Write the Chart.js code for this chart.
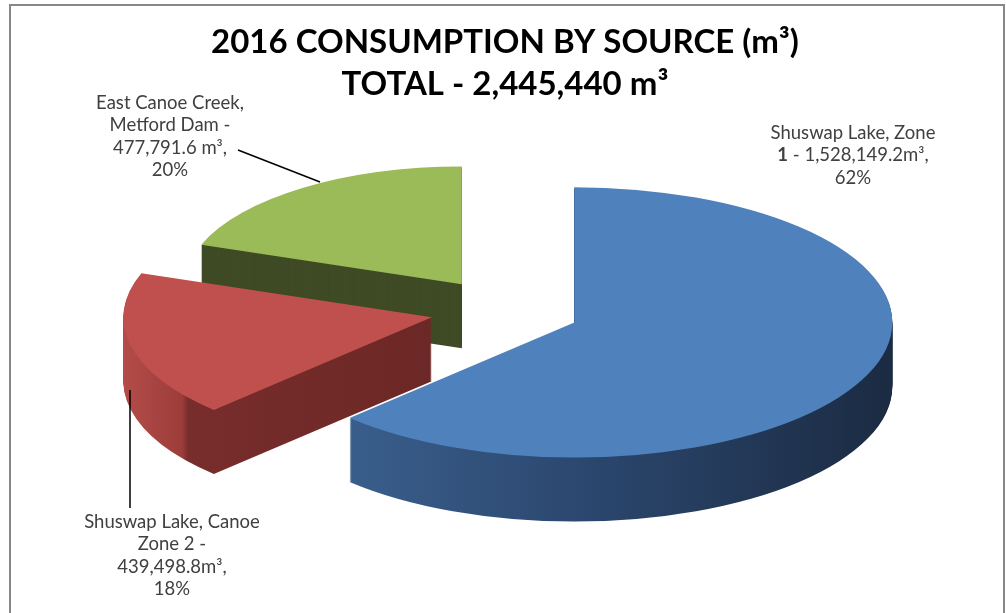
<!DOCTYPE html>
<html>
<head>
<meta charset="utf-8">
<script src="https://cdn.jsdelivr.net/npm/chart.js@4/dist/chart.umd.min.js"></script>
<style>
    html, body { margin: 0; padding: 0; background: #fff; }
    #wrap { position: relative; width: 1006px; height: 613px; overflow: hidden; }
    #frame { position: absolute; left: 9px; top: 4px; width: 996px; height: 660px; border: 2px solid #878787; box-sizing: border-box; }
    #pieChart { position: absolute; left: 0; top: 0; }
</style>
</head>
<body>
<div id="wrap">
    <div id="frame"></div>
    <canvas id="pieChart" width="1006" height="613"></canvas>
</div>
<script>
// 2016 소비량 (m³)
const sources = ["Shuswap Lake, Zone 1", "Shuswap Lake, Canoe Zone 2", "East Canoe Creek, Metford Dam"];
const volumes = [1528149.2, 439498.8, 477791.6];
const percents = [62, 18, 20];
const labelLines = [
    ["Shuswap Lake, Zone", "1 - 1,528,149.2m³,", "62%"],
    ["Shuswap Lake, Canoe", "Zone 2 -", "439,498.8m³,", "18%"],
    ["East Canoe Creek,", "Metford Dam -", "477,791.6 m³,", "20%"]
];
const topColors = ["#4f81bd", "#c0504d", "#9bbb59"];

const SQUASH = 0.425;  // 세로 눌림 비율
const DEPTH = 64;      // 옆면 두께
const EXPLODE = 75;    // 조각 분리 거리
const sliceScale = [1.0, 0.97, 0.87];  // 원근감 흉내 (뒤쪽 조각은 작게)

// 3D 모양 흉내 (옆면 + 윗면)
const pie3d = {
    id: "pie3d",
    beforeDatasetsDraw(chart) {
        const ctx = chart.ctx;
        const arcs = chart.getDatasetMeta(0).data;
        const cx = arcs[0].x, cy = arcs[0].y, R = arcs[0].outerRadius;

        const blueSide = ctx.createLinearGradient(cx - R, 0, cx + R, 0);
        blueSide.addColorStop(0, "#3f6796");
        blueSide.addColorStop(0.5, "#2c4870");
        blueSide.addColorStop(1, "#1b2b42");
        const redSide = ctx.createLinearGradient(cx - R, 0, cx, 0);
        redSide.addColorStop(0, "#b34c49");
        redSide.addColorStop(0.19, "#9d3d3a");
        redSide.addColorStop(0.21, "#772d2b");
        redSide.addColorStop(1, "#6c2826");
        const sideColors = [blueSide, redSide, "#3f4b25"];

        const drawArc = (arc, i, color) => {
            const mid = (arc.startAngle + arc.endAngle) / 2;
            const s = sliceScale[i];
            const keep = arc.options;
            ctx.save();
            ctx.translate(Math.cos(mid) * EXPLODE, Math.sin(mid) * EXPLODE);
            ctx.translate(cx, cy);
            ctx.scale(s, s);
            ctx.translate(-cx, -cy);
            if (color) arc.options = Object.assign({}, keep, { backgroundColor: color });
            arc.draw(ctx);
            arc.options = keep;
            ctx.restore();
        };
        const squash = () => {
            ctx.translate(cx, cy);
            ctx.scale(1, SQUASH);
            ctx.translate(-cx, -cy);
        };

        for (let k = DEPTH; k > 0; k--) {
            ctx.save();
            ctx.translate(0, k);
            squash();
            arcs.forEach((arc, i) => drawArc(arc, i, sideColors[i]));
            ctx.restore();
        }
        ctx.save();
        squash();
        arcs.forEach((arc, i) => drawArc(arc, i));
        ctx.restore();
        return false;
    },
    afterDraw(chart) {
        const ctx = chart.ctx;
        const normal = "18.5px Lato", bold = "bold 18.5px Lato";
        ctx.save();
        ctx.fillStyle = "#404040";
        ctx.textBaseline = "middle";
        const spots = [[853, 133], [172, 522], [170, 103]];
        labelLines.forEach((lines, i) => {
            lines.forEach((t, j) => {
                const x = spots[i][0], y = spots[i][1] + j * 22.5;
                if (i === 0 && j === 1) {
                    // 앞의 "1"만 굵게
                    ctx.font = bold;
                    const w1 = ctx.measureText("1").width;
                    ctx.font = normal;
                    const w2 = ctx.measureText(t.slice(1)).width;
                    const x0 = x - (w1 + w2) / 2;
                    ctx.textAlign = "left";
                    ctx.font = bold;
                    ctx.fillText("1", x0, y);
                    ctx.font = normal;
                    ctx.fillText(t.slice(1), x0 + w1, y);
                } else {
                    ctx.font = normal;
                    ctx.textAlign = "center";
                    ctx.fillText(t, x, y);
                }
            });
        });
        // 지시선
        ctx.strokeStyle = "#000";
        ctx.lineWidth = 1.5;
        ctx.beginPath();
        ctx.moveTo(238, 150);
        ctx.lineTo(320, 182);
        ctx.moveTo(130, 390);
        ctx.lineTo(130, 508);
        ctx.stroke();
        ctx.restore();
    }
};

const pieChart = new Chart(document.getElementById("pieChart"), {
    type: "pie",
    data: {
        labels: sources,
        datasets: [{
            label: "2016 Consumption",
            data: volumes,
            backgroundColor: topColors,
            borderWidth: 0,
            radius: 318,
            clip: false
        }]
    },
    options: {
        responsive: false,
        animation: false,
        layout: {
            padding: { top: 0, bottom: 97, left: 4, right: 0 }
        },
        plugins: {
            legend: { display: false },
            tooltip: { enabled: false },
            title: {
                display: true,
                text: ["2016 CONSUMPTION BY SOURCE (m³)", "TOTAL - 2,445,440 m³"],
                font: { family: "Lato", size: 33, weight: "bold", lineHeight: 1.25 },
                color: "#000",
                padding: { top: 22, bottom: 0 }
            }
        }
    },
    plugins: [pie3d]
});
</script>
</body>
</html>
